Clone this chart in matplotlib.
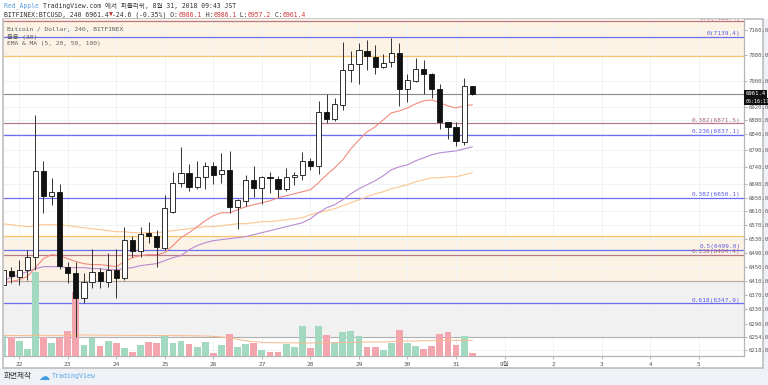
import matplotlib
matplotlib.use("Agg")
import matplotlib.pyplot as plt
import matplotlib.transforms as mtransforms
from matplotlib.patches import Rectangle
from matplotlib.ticker import FixedLocator, NullLocator, FuncFormatter
import numpy as np

plt.rcParams['font.family'] = ['DejaVu Sans Mono', 'Noto Sans CJK KR']

# BITFINEX:BTCUSD 4h candles, 21 Aug 16:00 -> 31 Aug 08:00
opens = [6399.5, 6439.1, 6422.2, 6441.9, 6479.0, 6728.9, 6655.3, 6667.0, 6450.4, 6433.4,
         6363.0, 6408.0, 6436.2, 6408.0, 6441.9, 6419.3, 6527.6, 6496.0, 6547.7, 6539.1,
         6504.6, 6608.6, 6693.4, 6723.0, 6681.7, 6711.2, 6743.8, 6720.0, 6731.9, 6623.1,
         6640.6, 6702.3, 6678.8, 6711.2, 6705.3, 6675.8, 6711.2, 6717.1, 6758.6, 6743.8,
         6906.0, 6884.7, 6927.4, 7034.9, 7053.6, 7094.0, 7075.3, 7044.2, 7059.8, 7087.7,
         6976.3, 7000.9, 7038.0, 7022.6, 6976.3, 6875.6, 6860.6, 6815.4, 6986.1]
highs = [6447.6, 6450.4, 6470.4, 6498.9, 6896.9, 6758.6, 6708.2, 6690.5, 6464.7, 6464.7,
         6433.4, 6501.8, 6447.6, 6490.3, 6501.8, 6565.1, 6539.1, 6565.1, 6579.5, 6556.4,
         6658.2, 6726.0, 6800.4, 6749.7, 6758.6, 6755.6, 6755.6, 6782.4, 6788.4, 6646.4,
         6717.1, 6743.8, 6714.1, 6726.0, 6714.1, 6737.8, 6726.0, 6785.4, 6767.6, 6939.6,
         6960.9, 6948.7, 7122.2, 7094.0, 7119.1, 7128.5, 7112.8, 7084.6, 7134.8, 7119.1,
         7022.6, 7072.2, 7066.0, 7025.7, 6991.8, 6875.6, 6875.6, 7010.2, 6986.1]
lows = [6394.0, 6405.2, 6399.5, 6413.6, 6441.9, 6605.7, 6629.0, 6444.8, 6405.2, 6252.0,
        6349.0, 6391.1, 6391.1, 6393.9, 6363.0, 6413.6, 6479.0, 6479.0, 6519.0, 6450.4,
        6498.9, 6605.7, 6681.7, 6670.0, 6675.8, 6675.8, 6690.5, 6693.4, 6605.7, 6559.3,
        6626.0, 6652.4, 6631.9, 6664.1, 6652.4, 6670.0, 6687.6, 6702.3, 6731.9, 6720.0,
        6872.6, 6878.7, 6912.1, 6997.9, 6991.8, 7034.9, 7022.6, 7041.1, 7044.2, 6924.3,
        6936.5, 6997.9, 6961.0, 6948.7, 6854.5, 6824.4, 6803.4, 6806.4, 6957.2]
closes = [6441.9, 6425.0, 6441.9, 6479.0, 6728.9, 6655.3, 6667.0, 6453.3, 6433.4, 6363.0,
          6408.0, 6436.2, 6410.8, 6441.9, 6419.3, 6527.6, 6496.0, 6544.9, 6539.1, 6507.5,
          6620.2, 6693.4, 6723.0, 6681.7, 6711.2, 6743.8, 6717.1, 6731.9, 6623.1, 6643.5,
          6702.3, 6678.8, 6711.2, 6709.0, 6675.8, 6711.2, 6717.1, 6758.6, 6743.8, 6906.0,
          6884.7, 6930.4, 7034.9, 7053.6, 7097.1, 7078.4, 7044.2, 7056.7, 7087.7, 6976.3,
          7004.0, 7038.0, 7022.6, 6976.3, 6875.6, 6860.6, 6818.4, 6986.1, 6961.4]
volumes = [3150, 2850, 2250, 1050, 12600, 2850, 1950, 2700, 3750, 9600,
           1650, 2700, 1500, 2250, 1950, 1200, 600, 1650, 2100, 1950,
           3000, 1950, 2250, 1800, 1350, 2100, 450, 1650, 3300, 1350,
           1800, 1950, 900, 600, 600, 1800, 1350, 4500, 1200, 4500,
           3150, 1950, 3600, 3750, 3000, 1350, 1350, 900, 1950, 3900,
           1950, 1500, 1050, 1500, 3300, 3600, 1650, 3000, 450]
vol_ma = [3080, 3080, 3070, 3060, 3100, 3100, 3090, 3090, 3100, 3150,
          3150, 3140, 3130, 3120, 3110, 3100, 3090, 3080, 3080, 3070,
          3070, 3060, 3050, 3040, 3020, 3000, 2950, 2850, 2700, 2500,
          2300, 2150, 2050, 2000, 1980, 1970, 1960, 1950, 1950, 1980,
          2000, 2010, 2030, 2050, 2080, 2080, 2100, 2100, 2150, 2200,
          2250, 2250, 2300, 2300, 2300, 2350, 2350, 2350, 2350]

ma_red = [6405.2, 6408.0, 6413.6, 6422.1, 6447.6, 6473.3, 6484.6, 6481.8, 6473.3, 6464.7,
          6459.0, 6456.2, 6456.2, 6453.3, 6450.5, 6464.7, 6476.1, 6481.8, 6484.6, 6484.6,
          6490.3, 6510.4, 6533.4, 6547.8, 6565.1, 6582.4, 6597.0, 6605.7, 6605.7, 6614.4,
          6623.1, 6629.0, 6634.8, 6640.6, 6649.4, 6655.3, 6661.1, 6667.0, 6672.9, 6693.5,
          6717.1, 6737.8, 6761.6, 6794.4, 6821.4, 6845.5, 6860.6, 6881.7, 6903.0, 6909.1,
          6918.2, 6930.4, 6939.6, 6942.6, 6933.5, 6924.3, 6918.2, 6924.3, 6927.4]
ma_purple = [6410.8, 6419.3, 6427.8, 6436.2, 6444.8, 6450.5, 6450.5, 6450.5, 6447.6, 6447.6,
             6447.6, 6444.8, 6444.8, 6441.9, 6441.9, 6444.8, 6447.6, 6453.3, 6456.2, 6459.0,
             6467.6, 6476.1, 6481.8, 6498.9, 6510.4, 6519.0, 6524.7, 6527.6, 6530.5, 6533.4,
             6536.2, 6542.0, 6547.8, 6553.5, 6559.3, 6565.1, 6570.8, 6576.6, 6588.2, 6605.7,
             6620.2, 6629.0, 6643.5, 6661.1, 6675.8, 6687.6, 6699.4, 6714.1, 6731.9, 6740.9,
             6746.8, 6758.6, 6767.6, 6776.5, 6782.5, 6785.4, 6788.4, 6794.4, 6800.4]
ma_orange = [6573.7, 6570.8, 6568.0, 6565.1, 6568.0, 6570.8, 6570.8, 6570.8, 6568.0, 6565.1,
             6562.2, 6559.3, 6556.4, 6553.5, 6550.6, 6550.6, 6547.8, 6547.8, 6547.8, 6547.8,
             6550.6, 6553.5, 6556.4, 6559.3, 6562.2, 6565.1, 6565.1, 6568.0, 6570.8, 6573.7,
             6573.7, 6576.6, 6579.5, 6579.5, 6582.4, 6585.3, 6588.2, 6591.1, 6599.9, 6605.7,
             6611.5, 6617.3, 6626.0, 6634.8, 6643.5, 6652.3, 6661.1, 6667.0, 6675.8, 6681.7,
             6687.6, 6696.5, 6702.3, 6708.2, 6708.2, 6711.2, 6711.2, 6717.1, 6723.0]

# fib tools drawn on the chart
fib_blue = [7139.4, 6837.1, 6650.1, 6499.0, 6347.9]
fib_blue_labels = ['0(7139.4)', '0.236(6837.1)', '0.382(6650.1)', '0.5(6499.0)', '0.618(6347.9)']
fib_red = [7188.4, 6871.5, 6484.4]
fib_red_labels = ['0.5(7188.4)', '0.382(6871.5)', '0.236(6484.4)']

# boxes
upper_zone = (7078.0, 7300.0)
lower_zone = (6410.8, 6539.1)
gray_zone = (6254.0, 6410.8)
last_price = 6961.4

price_ticks = [7160, 7080, 7000, 6920, 6880, 6840, 6790, 6740, 6690, 6650, 6610,
               6570, 6530, 6490, 6450, 6410, 6370, 6330, 6290, 6254, 6218]
day_labels = ['22', '23', '24', '25', '26', '27', '28', '29', '30', '31',
              '9월', '2', '3', '4', '5']
day_start = 2        # candle index of 22 Aug 00:00
bars_per_day = 6

W, H = 768, 385
fig = plt.figure(figsize=(W / 100, H / 100), dpi=100, facecolor='white')

# page bits: footer strip, right strip, chart frame (kept under the axes)
fig.patches.append(Rectangle((0, 0), 1, 1 - 368 / H, transform=fig.transFigure,
                             color='#eef1f5', zorder=-3))
fig.patches.append(Rectangle((762 / W, 0), 6 / W, 1 - 19 / H, transform=fig.transFigure,
                             color='#eef1f5', zorder=-3))
fig.patches.append(Rectangle((2.5 / W, 1 - 368 / H), 760 / W, 349 / H, transform=fig.transFigure,
                             facecolor='white', edgecolor='#bdbdbd', lw=1.2, zorder=-2))

ax = fig.add_axes([4 / W, 1 - 356 / H, 740 / W, 337 / H])
vol = ax.twinx()
axc = ax.twinx()

ymin, ymax = 6201.2, 7194.8
for a in (ax, axc):
    a.set_yscale('log')
    a.set_ylim(ymin, ymax)
ax.set_xlim(0.12, 91.6)

x = np.arange(len(opens))
o = np.array(opens)
c = np.array(closes)
up = c >= o

# zones and horizontal lines
ax.set_axisbelow(True)
ax.axhspan(*upper_zone, color='#fdf3e4', lw=0, zorder=0.3)
ax.axhspan(*lower_zone, color='#fdf3e4', lw=0, zorder=0.3)
ax.axhspan(*gray_zone, color='#f1f1f1', lw=0, zorder=0.3)
ax.axhline(upper_zone[0], color='#f8c36a', lw=0.9, zorder=1)
ax.axhline(lower_zone[1], color='#f8c36a', lw=0.9, zorder=1)
ax.axhline(lower_zone[0], color='#b9aca3', lw=0.9, zorder=1)
ax.axhline(gray_zone[0], color='#b0b0b0', lw=0.8, zorder=1)
ax.axhline(last_price, color='#8a8a8a', lw=0.8, zorder=1)

for lv, lb in zip(fib_blue, fib_blue_labels):
    ax.axhline(lv, color='#6c6cf0', lw=0.9, zorder=1.2)
    ax.text(91.2, lv * 1.0002, lb, ha='right', va='bottom', fontsize=4.4,
            color='#5a5ae6', zorder=3, clip_on=True)
for lv, lb in zip(fib_red, fib_red_labels):
    ax.axhline(lv, color='#b87a86', lw=0.9, zorder=1.2)
    ax.text(91.2, lv * 1.0002, lb, ha='right', va='bottom', fontsize=4.4,
            color='#a8677a', zorder=3, clip_on=True)

# moving averages
ax.plot(x, ma_orange, color='#fcc590', lw=0.8, zorder=2)
ax.plot(x, ma_purple, color='#b98ad3', lw=0.8, zorder=2)
ax.plot(x, ma_red, color='#f28a80', lw=0.8, zorder=2)

# volume
vol.set_ylim(0, 337 * 150)
vol.bar(x, volumes, width=0.84, color=np.where(up, '#a2d9c0', '#f3a5ae'), lw=0)
vol.plot(x, vol_ma, color='#f8b98a', lw=0.7)

# candles
axc.vlines(x, lows, highs, color='#333333', lw=0.7, zorder=2)
axc.bar(x, np.abs(c - o), bottom=np.minimum(o, c), width=0.64,
        color=np.where(up, 'white', '#111111'), edgecolor='#111111', lw=0.6, zorder=3)

# axes cosmetics
for a in (vol, axc):
    a.set_yticks([])
    a.yaxis.set_minor_locator(NullLocator())
    a.tick_params(right=False, labelright=False, left=False)
    for s in a.spines.values():
        s.set_visible(False)

ax.yaxis.tick_right()
ax.yaxis.set_major_locator(FixedLocator(price_ticks))
ax.yaxis.set_minor_locator(NullLocator())
ax.yaxis.set_major_formatter(FuncFormatter(lambda v, p: '%.1f' % v))
ax.tick_params(axis='y', labelsize=4.1, colors='#9a9a9a', labelcolor='#555555',
               length=2, width=0.5, pad=1)
day_pos = [day_start + bars_per_day * k for k in range(len(day_labels))]
ax.set_xticks(day_pos)
ax.set_xticklabels(day_labels)
ax.tick_params(axis='x', labelsize=4.4, colors='#9a9a9a', labelcolor='#555555',
               length=2, width=0.5, pad=2)
ax.grid(True, color='#edf1f5', lw=0.6)
for s in ('top', 'left'):
    ax.spines[s].set_visible(False)
for s in ('bottom', 'right'):
    ax.spines[s].set_color('#b5b5b5')
    ax.spines[s].set_linewidth(0.9)

# last price marker on the scale
blend = mtransforms.blended_transform_factory(ax.transAxes, ax.transData)
ax.text(1.002, last_price, '6961.4', transform=blend, ha='left', va='center',
        fontsize=4.1, color='white', clip_on=False, zorder=5,
        bbox=dict(boxstyle='square,pad=0.25', fc='#111111', ec='none'))
ax.text(1.002, 6937.5, '05:16:17', transform=blend, ha='left', va='center',
        fontsize=3.6, color='white', clip_on=False, zorder=5,
        bbox=dict(boxstyle='square,pad=0.25', fc='#111111', ec='none'))

# legend text in the pane
for i, s in enumerate(['Bitcoin / Dollar, 240, BITFINEX', '볼륨 (30)',
                       'EMA & MA (5, 20, 50, 100)']):
    fig.text(7 / W, 1 - (29 + 7.5 * i) / H, s, fontsize=4.5, color='#606060',
             va='center', ha='left')


def text_run(y, pieces, size, x0=4):
    r = fig.canvas.get_renderer()
    xp = x0
    for s, col in pieces:
        t = fig.text(xp / W, 1 - y / H, s, fontsize=size, color=col, va='center', ha='left')
        xp += t.get_window_extent(r).width


dark = '#333333'
red = '#d23a3a'
text_run(6, [('Red_Apple ', '#5a9fdc'),
             ('TradingView.com 에서 퍼블리쉬, 8월 31, 2018 09:43 JST', dark)], 4.7)
text_run(15, [('BITFINEX:BTCUSD, 240 6961.4', dark), ('▼', '#c0392b'),
              ('-24.6 (-0.35%) O:', dark), ('6986.1', red), (' H:', dark),
              ('6986.1', red), (' L:', dark), ('6957.2', red), (' C:', dark),
              ('6961.4', red)], 4.7)

# footer
fig.text(4 / W, 1 - 376 / H, '화면제작', fontsize=5.5, color='#333333', va='center',
         family=['Noto Sans CJK KR'])
fig.text(38 / W, 1 - 376.5 / H, '☁', fontsize=8, color='#3a9de4', va='center',
         family=['DejaVu Sans'])
fig.text(52 / W, 1 - 376 / H, 'TradingView', fontsize=4.8, color='#5aa8e8', va='center')

fig.savefig('out.png', dpi=100, facecolor=fig.get_facecolor())
